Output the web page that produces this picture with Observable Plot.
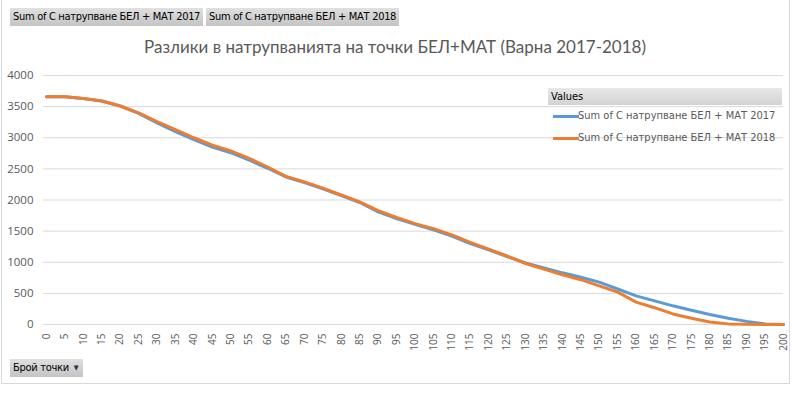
<!DOCTYPE html>
<html>
<head>
<meta charset="utf-8">
<script src="https://cdn.jsdelivr.net/npm/d3@7"></script>
<script src="https://cdn.jsdelivr.net/npm/@observablehq/plot@0.6"></script>
<style>
  html, body { margin: 0; padding: 0; background: #fff; }
  #wrap { position: relative; width: 798px; height: 394px; overflow: hidden; font-family: "Open Sans", "Liberation Sans", sans-serif; }
  #frame { position: absolute; left: 1px; top: 0px; width: 789px; height: 384px; border: 1px solid #d9d9d9; border-top: none; box-sizing: border-box; }
  .btn { position: absolute; height: 18px; line-height: 18px; font-size: 11px; color: #000; background: linear-gradient(#e0e0e0, #c4c4c4); padding: 0 3px; white-space: nowrap; font-family: "DejaVu Sans Condensed", "DejaVu Sans", sans-serif; letter-spacing: -0.3px; }
  .tri { font-size: 7px; vertical-align: 1px; margin-left: 5px; margin-right: 2px; color: #333; }
  #title { position: absolute; left: 0; width: 790px; top: 36px; text-align: center; font-size: 17px; color: #595959; font-family: "Lato", "Open Sans", sans-serif; }
  #legend { position: absolute; left: 548px; top: 88px; width: 234px; font-size: 11px; color: #595959; font-family: "DejaVu Sans Condensed", "DejaVu Sans", sans-serif; }
  #legend .hd { height: 17px; line-height: 17px; background: linear-gradient(#e8e8e8, #d2d2d2); color: #000; padding-left: 3px; }
  #legend .it { position: relative; height: 22px; line-height: 22px; padding-left: 30px; }
  #legend .it span.sw { position: absolute; left: 5px; top: 10px; width: 26px; height: 3px; }
  svg { position: absolute; left: 0; top: 0; }
</style>
</head>
<body>
<div id="wrap">
  <div id="frame"></div>
  <div id="chart"></div>
  <div class="btn" style="left:10px; top:8px;">Sum of C натрупване БЕЛ + МАТ 2017</div>
  <div class="btn" style="left:206px; top:8px;">Sum of C натрупване БЕЛ + МАТ 2018</div>
  <div id="title">Разлики в натрупванията на точки БЕЛ+МАТ (Варна 2017-2018)</div>
  <div id="legend"></div>
  <div class="btn" style="left:10px; top:359px;">Брой точки<span class="tri">&#9660;</span></div>
</div>
<script>
const points = [0,5,10,15,20,25,30,35,40,45,50,55,60,65,70,75,80,85,90,95,100,105,110,115,120,125,130,135,140,145,150,155,160,165,170,175,180,185,190,195,200];
const values2017 = [3660,3660,3630,3590,3510,3390,3240,3100,2970,2850,2760,2640,2510,2370,2280,2180,2070,1960,1810,1700,1610,1520,1420,1300,1200,1090,990,910,830,760,680,570,460,380,300,230,160,100,50,10,0];
const values2018 = [3660,3660,3630,3590,3510,3400,3260,3130,3000,2880,2790,2670,2530,2380,2290,2190,2080,1970,1830,1720,1620,1540,1440,1320,1210,1100,980,890,800,720,620,520,360,270,170,100,40,10,5,0,0];
const seriesNames = ["Sum of C натрупване БЕЛ + МАТ 2017", "Sum of C натрупване БЕЛ + МАТ 2018"];
const seriesColors = ["#5B9BD5", "#ED7D31"];
const yTicks = [0,500,1000,1500,2000,2500,3000,3500,4000];
const xTicks = d3.range(0, 201, 5);

const data = [];
points.forEach((p, i) => {
  data.push({x: p, y: values2017[i], s: seriesNames[0]});
  data.push({x: p, y: values2018[i], s: seriesNames[1]});
});

const chart = Plot.plot({
  width: 798,
  height: 394,
  marginLeft: 46,
  marginRight: 15,
  marginTop: 75,
  marginBottom: 70,
  style: {background: "transparent", fontFamily: "'Open Sans', sans-serif", color: "#595959"},
  x: {domain: [0, 200]},
  y: {domain: [0, 4000]},
  color: {domain: seriesNames, range: seriesColors},
  marks: [
    Plot.ruleY(yTicks, {x1: -0.8, x2: 200, stroke: "#d9d9d9", strokeWidth: 1}),
    Plot.axisY({ticks: yTicks, tickSize: 0, tickPadding: 13, tickFormat: d3.format("d"), label: null, fontSize: 11.5, fill: "#595959"}),
    Plot.axisX({ticks: xTicks, tickSize: 0, tickPadding: 9, tickRotate: -90, tickFormat: d3.format("d"), label: null, fontSize: 10, fill: "#595959", textAnchor: "end"}),
    Plot.line(data, {x: "x", y: "y", z: "s", stroke: "s", strokeWidth: 3, curve: "linear"})
  ]
});
document.getElementById("chart").appendChild(chart);

const leg = document.getElementById("legend");
const hd = document.createElement("div"); hd.className = "hd"; hd.textContent = "Values"; leg.appendChild(hd);
seriesNames.forEach((n, i) => {
  const it = document.createElement("div"); it.className = "it";
  const sw = document.createElement("span"); sw.className = "sw"; sw.style.background = seriesColors[i];
  it.appendChild(sw);
  it.appendChild(document.createTextNode(n));
  leg.appendChild(it);
});
</script>
</body>
</html>
